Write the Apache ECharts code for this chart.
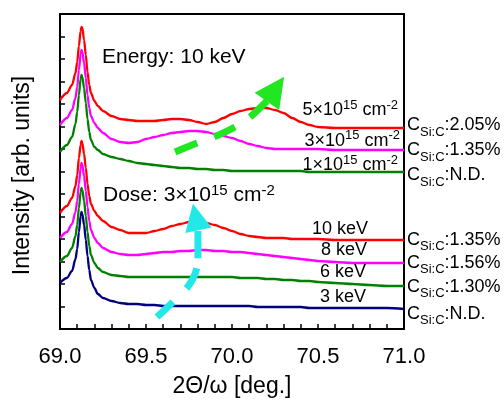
<!DOCTYPE html>
<html><head><meta charset="utf-8">
<script src="https://cdn.jsdelivr.net/npm/echarts@6/dist/echarts.min.js"></script>
<style>html,body{margin:0;padding:0;background:#fff}#c{width:504px;height:403px}</style>
</head><body><div id="c"></div>
<script>
const FONT = '"Liberation Sans", Arial, Helvetica, sans-serif';

// 2Theta/omega positions [deg.]
const xValues = [69.00, 69.04, 69.07, 69.09, 69.10, 69.11, 69.12, 69.125, 69.13, 69.14, 69.15, 69.16, 69.17, 69.18, 69.20, 69.22, 69.25, 69.30, 69.35, 69.40, 69.45, 69.50, 69.55, 69.60, 69.65, 69.70, 69.75, 69.80, 69.85, 69.90, 69.95, 70.00, 70.05, 70.10, 70.15, 70.20, 70.25, 70.30, 70.35, 70.40, 70.45, 70.50, 70.60, 70.70, 70.80, 70.90, 71.00];

// Energy 10 keV, dose series (offset intensities, arb. units)
const dose5e15 = [229, 236, 244, 256, 267, 283, 298, 302, 301, 289, 274, 257, 244, 236, 228, 223, 218, 213, 210, 209, 208, 208, 208, 209, 210, 210, 209, 207, 205, 207, 211, 215, 218, 220, 221, 221, 219, 216, 211, 207, 204, 202, 201, 201, 201, 201, 201];
const dose3e15 = [204, 211, 219, 231, 242, 259, 275, 279, 277, 266, 251, 234, 221, 213, 206, 201, 196, 190, 187, 186, 187, 190, 192, 194, 196, 197, 198, 198, 197, 195, 193, 191, 188, 185, 183, 181, 180, 180, 180, 180, 180, 180, 179, 179, 179, 179, 179];
const dose1e15 = [177, 184, 192, 205, 217, 234, 250, 254, 252, 241, 226, 210, 197, 189, 182, 179, 175, 172, 170, 168, 166, 165, 164, 163, 162, 161, 161, 160, 160, 159, 159, 158, 158, 158, 158, 158, 158, 158, 158, 158, 157, 157, 157, 157, 157, 157, 157];

// Dose 3e15 cm-2, energy series
const energy10 = [116, 123, 131, 143, 154, 171, 184, 188, 186, 175, 161, 145, 133, 125, 118, 113, 108, 102, 99, 96, 96, 96, 98, 100, 103, 105, 107, 107, 106, 104, 101, 98, 95, 93, 92, 91, 91, 91, 90, 90, 90, 90, 89, 89, 89, 89, 89];
const energy8 = [91, 97, 105, 117, 128, 145, 161, 166, 164, 153, 138, 122, 108, 99, 91, 86, 81, 77, 75, 74, 74, 75, 76, 77, 77, 78, 78, 79, 79, 78, 78, 77, 77, 76, 75, 74, 73, 72, 71, 70, 69, 68, 67, 66, 66, 66, 66];
const energy6 = [67, 73, 81, 93, 104, 121, 137, 141, 139, 128, 113, 97, 83, 74, 66, 61, 57, 54, 53, 52, 52, 52, 52, 52, 52, 52, 52, 52, 52, 52, 52, 52, 51, 51, 51, 50, 50, 49, 49, 48, 48, 47, 46, 45, 44, 43, 43];
const energy3 = [46, 51, 58, 70, 80, 97, 113, 117, 115, 104, 89, 73, 59, 49, 41, 35, 31, 28, 26, 25, 25, 24, 24, 23, 23, 23, 23, 23, 23, 23, 23, 23, 23, 23, 22, 22, 22, 22, 22, 22, 21, 21, 21, 21, 21, 21, 20];

// annotation arrows (data coordinates)
const greenArrowPath = [[69.669, 177], [69.797, 186], [69.895, 192], [70.017, 202], [70.105, 212], [70.203, 228]];
const greenArrowHead = [70.253, 240];
const cyanArrowPath = [[69.564, 12], [69.657, 27], [69.738, 41], [69.785, 55], [69.802, 71], [69.802, 98]];
const cyanArrowHead = [69.789, 112];

const pairs = ys => xValues.map((x, i) => [x, ys[i]]);

const curves = [
  { data: dose5e15, color: '#ff0000' },
  { data: dose3e15, color: '#ff00ff' },
  { data: dose1e15, color: '#008000' },
  { data: energy10, color: '#ff0000' },
  { data: energy8, color: '#ff00ff' },
  { data: energy6, color: '#008000' },
  { data: energy3, color: '#000080' }
];

const series = curves.map(c => ({
  type: 'line', data: pairs(c.data), symbol: 'none', smooth: 0.3, smoothMonotone: 'x',
  lineStyle: { color: c.color, width: 2.3 }, silent: true, z: 2
}));

const GREEN = '#22e622', CYAN = '#22e8e8';
series.push(
  { type: 'line', data: greenArrowPath, symbol: 'none', smooth: 0.3, silent: true, z: 5,
    lineStyle: { color: GREEN, width: 7, type: [24, 18, 23, 18, 40, 0] } },
  { type: 'scatter', data: [greenArrowHead], symbol: 'triangle', symbolSize: [30, 30], symbolRotate: -35,
    itemStyle: { color: GREEN, opacity: 1 }, silent: true, z: 5 },
  { type: 'line', data: cyanArrowPath, symbol: 'none', smooth: 0.3, silent: true, z: 5,
    lineStyle: { color: CYAN, width: 7, type: [22, 19, 23, 10, 60, 0] } },
  { type: 'scatter', data: [cyanArrowHead], symbol: 'triangle', symbolSize: [27, 27], symbolRotate: 12,
    itemStyle: { color: CYAN, opacity: 1 }, silent: true, z: 5 }
);

const supStyle = { fontSize: 13, lineHeight: 14, padding: [0, 0, 10, 0], fontFamily: FONT, fill: '#000' };
const subStyle = { fontSize: 13, lineHeight: 14, padding: [14, 0, 0, 0], fontFamily: FONT, fill: '#000' };
function txt(x, y, text, align, size) {
  return { type: 'text', x: x, y: y, silent: true, z: 10,
    style: { text: text, fontSize: size || 18, lineHeight: (size || 18) + 2, fontFamily: FONT, fill: '#000',
      align: align, verticalAlign: 'middle', rich: { p: supStyle, b: subStyle,
        P: { fontSize: 15, lineHeight: 16, padding: [0, 0, 10, 0], fontFamily: FONT, fill: '#000' } } } };
}

const graphic = [
  txt(102, 57, 'Energy: 10 keV', 'left', 21),
  txt(103, 195.5, 'Dose: 3×10{P|15} cm{P|-2}', 'left', 21),
  txt(398, 110.3, '5×10{p|15} cm{p|-2}', 'right'),
  txt(400, 140.6, '3×10{p|15} cm{p|-2}', 'right'),
  txt(398, 165.3, '1×10{p|15} cm{p|-2}', 'right'),
  txt(368, 228.6, '10 keV', 'right'),
  txt(367, 250.3, '8 keV', 'right'),
  txt(366, 272, '6 keV', 'right'),
  txt(366, 297, '3 keV', 'right'),
  txt(407, 125.3, 'C{b|Si:C}:2.05%', 'left'),
  txt(407, 150.3, 'C{b|Si:C}:1.35%', 'left'),
  txt(407, 175.3, 'C{b|Si:C}:N.D.', 'left'),
  txt(407, 239.8, 'C{b|Si:C}:1.35%', 'left'),
  txt(407, 262.6, 'C{b|Si:C}:1.56%', 'left'),
  txt(407, 286.6, 'C{b|Si:C}:1.30%', 'left'),
  txt(407, 313.6, 'C{b|Si:C}:N.D.', 'left')
];

const axisLineStyle = { color: '#000', width: 2 };
const tickStyle = { color: '#000', width: 1.5 };

const chart = echarts.init(document.getElementById('c'), null, { renderer: 'canvas' });
chart.setOption({
  animation: false,
  backgroundColor: '#fff',
  grid: { left: 60, right: 100, top: 14, bottom: 74, show: true, borderColor: '#000', borderWidth: 2, backgroundColor: 'transparent' },
  xAxis: {
    type: 'value', min: 69, max: 71, interval: 0.5,
    axisLine: { lineStyle: axisLineStyle },
    axisTick: { inside: true, length: 5, lineStyle: tickStyle },
    minorTick: { show: true, splitNumber: 5, length: 5, lineStyle: tickStyle },
    splitLine: { show: false }, minorSplitLine: { show: false },
    axisLabel: { fontSize: 22, color: '#000', fontFamily: FONT, margin: 17, formatter: v => v.toFixed(1) },
    name: '2Θ/ω [deg.]', nameLocation: 'middle', nameGap: 46,
    nameTextStyle: { fontSize: 23, color: '#000', fontFamily: FONT }
  },
  yAxis: {
    type: 'value', min: 0, max: 315, interval: 22.5,
    axisLine: { show: true, lineStyle: axisLineStyle },
    axisTick: { show: true, inside: true, length: 5, lineStyle: tickStyle },
    axisLabel: { show: false }, splitLine: { show: false },
    name: 'Intensity [arb. units]', nameLocation: 'middle', nameGap: 26, nameRotate: 90,
    nameTextStyle: { fontSize: 23, color: '#000', fontFamily: FONT, padding: [0, 8, 0, 0] }
  },
  series: series,
  graphic: graphic
});
</script></body></html>
